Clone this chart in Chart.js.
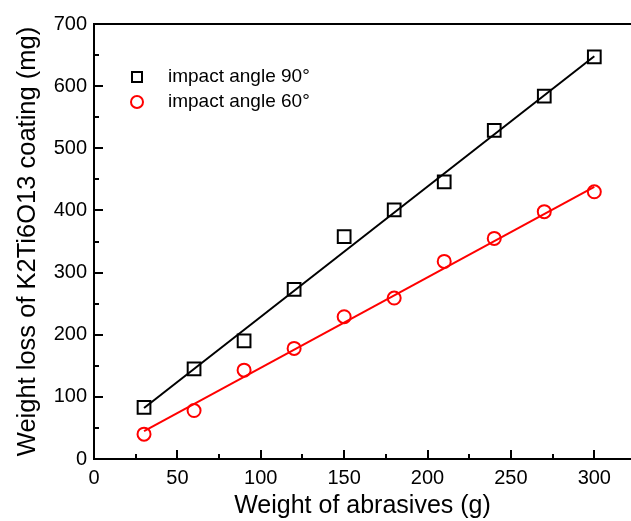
<!DOCTYPE html>
<html>
<head>
<meta charset="utf-8">
<script src="https://cdn.jsdelivr.net/npm/chart.js@4"></script>
<style>
  html, body { margin: 0; padding: 0; background: #fff; }
  #wrap { width: 631px; height: 521px; }
</style>
</head>
<body>
<div id="wrap"><canvas id="lossChart" width="631" height="521"></canvas></div>
<script>
// abrasive weight (g)
const abrasives = [30, 60, 90, 120, 150, 180, 210, 240, 270, 300];
// weight loss (mg)
const loss90 = [83, 145, 190, 273, 358, 401, 446, 529, 584, 647];
const loss60 = [40, 78, 143, 178, 229, 259, 318, 355, 398, 430];
// fitted lines, end points
const fitX = [30, 300];
const fit90 = [82, 648];
const fit60 = [45, 438];

const xTicks = [0, 50, 100, 150, 200, 250, 300];
const yTicks = [0, 100, 200, 300, 400, 500, 600, 700];
const legendLabels = ["impact angle 90°", "impact angle 60°"];

const toPoints = (xs, ys) => xs.map((x, i) => ({ x: x, y: ys[i] }));
const FONT = "'Liberation Sans', Arial, sans-serif";

// inward tick marks, minor ticks, top frame line and the legend
const frame = {
  id: 'frame',
  afterDraw(chart) {
    const c = chart.ctx, a = chart.chartArea;
    const xs = chart.scales.x, ys = chart.scales.y;
    c.save();
    c.strokeStyle = '#000';
    c.lineWidth = 2;
    c.beginPath();
    c.moveTo(a.left - 1, a.top);
    c.lineTo(a.right, a.top);
    for (let v = 0; v <= xs.max; v += 25) {
      const px = Math.round(xs.getPixelForValue(v));
      const len = v % 50 === 0 ? 9 : 5;
      c.moveTo(px, a.bottom);
      c.lineTo(px, a.bottom - len);
    }
    for (let v = 0; v <= ys.max; v += 50) {
      const py = Math.round(ys.getPixelForValue(v));
      const len = v % 100 === 0 ? 9 : 5;
      c.moveTo(a.left, py);
      c.lineTo(a.left + len, py);
    }
    c.stroke();

    // legend
    const lx = 137, ly = 77, gap = 25;
    c.lineWidth = 2;
    c.strokeStyle = '#000';
    c.strokeRect(lx - 5, ly - 5, 10, 10);
    c.strokeStyle = '#ff0000';
    c.beginPath();
    c.arc(lx, ly + gap, 6, 0, Math.PI * 2);
    c.stroke();
    c.fillStyle = '#000';
    c.font = '19px ' + FONT;
    c.textBaseline = 'middle';
    c.fillText(legendLabels[0], 168, ly);
    c.fillText(legendLabels[1], 168, ly + gap);
    c.restore();
  }
};

new Chart(document.getElementById('lossChart'), {
  type: 'scatter',
  data: {
    datasets: [
      {
        label: legendLabels[0],
        data: toPoints(abrasives, loss90),
        pointStyle: 'rect',
        pointRadius: 9,
        borderColor: '#000',
        backgroundColor: 'rgba(0,0,0,0)',
        borderWidth: 2,
        showLine: false
      },
      {
        label: legendLabels[1],
        data: toPoints(abrasives, loss60),
        pointStyle: 'circle',
        pointRadius: 6.5,
        borderColor: '#ff0000',
        backgroundColor: 'rgba(0,0,0,0)',
        borderWidth: 2,
        showLine: false
      },
      {
        label: 'fit 90',
        data: toPoints(fitX, fit90),
        showLine: true,
        pointRadius: 0,
        borderColor: '#000',
        borderWidth: 2
      },
      {
        label: 'fit 60',
        data: toPoints(fitX, fit60),
        showLine: true,
        pointRadius: 0,
        borderColor: '#ff0000',
        borderWidth: 2
      }
    ]
  },
  options: {
    responsive: false,
    animation: false,
    layout: { autoPadding: false, padding: { top: 24, right: 0, left: 0, bottom: 0 } },
    plugins: { legend: { display: false }, tooltip: { enabled: false } },
    scales: {
      x: {
        type: 'linear',
        min: 0,
        max: 322,
        afterBuildTicks: s => { s.ticks = xTicks.map(v => ({ value: v })); },
        afterFit: s => { s.height = 62; s.paddingRight = 0; },
        grid: { display: false, drawTicks: false },
        border: { display: true, color: '#000', width: 2 },
        ticks: { color: '#000', padding: 7, font: { family: FONT, size: 20 } },
        title: {
          display: true,
          text: 'Weight of abrasives (g)',
          color: '#000',
          font: { family: FONT, size: 25 },
          padding: { top: 0, bottom: 0 }
        }
      },
      y: {
        type: 'linear',
        min: 0,
        max: 700,
        afterBuildTicks: s => { s.ticks = yTicks.map(v => ({ value: v })); },
        afterFit: s => { s.width = 94; },
        grid: { display: false, drawTicks: false },
        border: { display: true, color: '#000', width: 2 },
        ticks: { color: '#000', padding: 7, font: { family: FONT, size: 20 } },
        title: {
          display: true,
          text: 'Weight loss of K2Ti6O13 coating (mg)',
          color: '#000',
          font: { family: FONT, size: 25.5 },
          padding: { top: 13, bottom: 0 }
        }
      }
    }
  },
  plugins: [frame]
});
</script>
</body>
</html>
